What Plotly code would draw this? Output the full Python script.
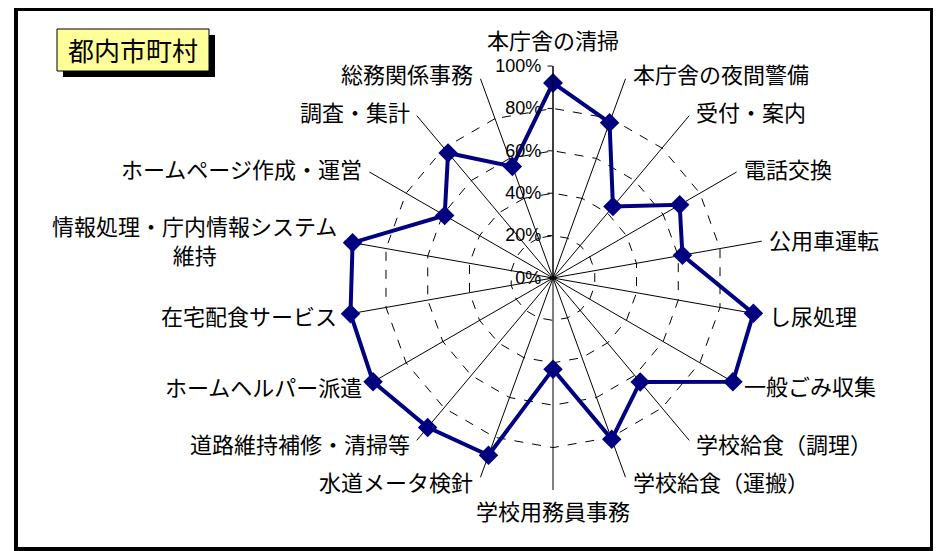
import math
import plotly.graph_objects as go

# 業務名（時計回り、真上から）
gyomu = ["本庁舎の清掃", "本庁舎の夜間警備", "受付・案内", "電話交換", "公用車運転",
         "し尿処理", "一般ごみ収集", "学校給食（調理）", "学校給食（運搬）", "学校用務員事務",
         "水道メータ検針", "道路維持補修・清掃等", "ホームヘルパー派遣", "在宅配食サービス",
         "情報処理・庁内情報システム<br>維持",
         "ホームページ作成・運営", "調査・集計", "総務関係事務"]
# 実施率
taux = [0.92, 0.78, 0.44, 0.69, 0.62, 0.96, 0.98, 0.64, 0.81, 0.43,
        0.89, 0.92, 0.98, 0.97, 0.96, 0.59, 0.77, 0.56]
ticks_r = [0, 0.2, 0.4, 0.6, 0.8, 1.0]
ticks_txt = ["0%", "20%", "40%", "60%", "80%", "100%"]

W, H = 941, 551
OFF = 8  # marge du body de la page
cx, cy, R = 553, 278, 212


def px(x):
    return (x - OFF) / W


def py(y):
    return 1 - (y - OFF) / H


fig = go.Figure()
fig.add_trace(go.Scatterpolar(
    r=taux + [taux[0]], theta=gyomu + [gyomu[0]],
    mode="lines+markers",
    line=dict(color="#000080", width=4),
    marker=dict(symbol="diamond", size=15, color="#000080"),
    showlegend=False, hoverinfo="skip"))

fig.update_layout(
    width=W, height=H,
    margin=dict(l=0, r=0, t=0, b=0),
    paper_bgcolor="white",
    font=dict(family="Noto Sans CJK JP", color="black"),
    polar=dict(
        domain=dict(x=[px(cx - R), px(cx + R)], y=[py(cy + R), py(cy - R)]),
        bgcolor="white",
        gridshape="linear",
        angularaxis=dict(rotation=90, direction="clockwise",
                         showline=False, ticks="", showticklabels=False,
                         gridcolor="black", gridwidth=1),
        radialaxis=dict(range=[0, 1.0001], angle=90, side="counterclockwise",
                        tickvals=ticks_r, ticktext=ticks_txt,
                        tickangle=90,
                        showline=True, linecolor="black", linewidth=1,
                        ticks="outside", ticklen=5, tickcolor="black",
                        gridcolor="black", gridwidth=1, griddash="dash",
                        tickfont=dict(size=18, family="Liberation Sans")),
    ),
)

# 項目名：各軸の先端の横に配置（Excel風）
n = len(gyomu)
for i, nom in enumerate(gyomu):
    a = math.radians(360 * i / n)
    ex = cx + R * math.sin(a)
    ey = cy - R * math.cos(a)
    dy = -5 * math.cos(a) - 1
    if i == 0:
        x, y, xa, ya = ex, ey - 9, "center", "bottom"
    elif 2 * i == n:
        x, y, xa, ya = ex, ey + 2, "center", "top"
    elif 2 * i < n:
        x, y, xa, ya = ex + 5, ey + dy, "left", "middle"
    else:
        x, y, xa, ya = ex - 5, ey + dy, "right", "middle"
    fig.add_annotation(text=nom, xref="paper", yref="paper",
                       x=px(x), y=py(y), xanchor=xa, yanchor=ya,
                       align="center", showarrow=False,
                       font=dict(size=22, family="Noto Sans CJK JP", color="black"))

# 外枠
fig.add_shape(type="rect", xref="paper", yref="paper",
              x0=px(16), x1=px(932), y0=py(549), y1=py(9),
              line=dict(color="black", width=4))
# タイトル枠（影付き）
fig.add_shape(type="rect", xref="paper", yref="paper",
              x0=px(63), x1=px(215), y0=py(77), y1=py(35),
              fillcolor="black", line=dict(width=0))
fig.add_shape(type="rect", xref="paper", yref="paper",
              x0=px(57), x1=px(209), y0=py(71), y1=py(29),
              fillcolor="#FFFF99", line=dict(color="black", width=1))
fig.add_annotation(text="都内市町村", xref="paper", yref="paper",
                   x=px(133), y=py(50), xanchor="center", yanchor="middle",
                   showarrow=False,
                   font=dict(size=26, family="Noto Sans CJK JP", color="black"))

fig.write_html("out.html")
